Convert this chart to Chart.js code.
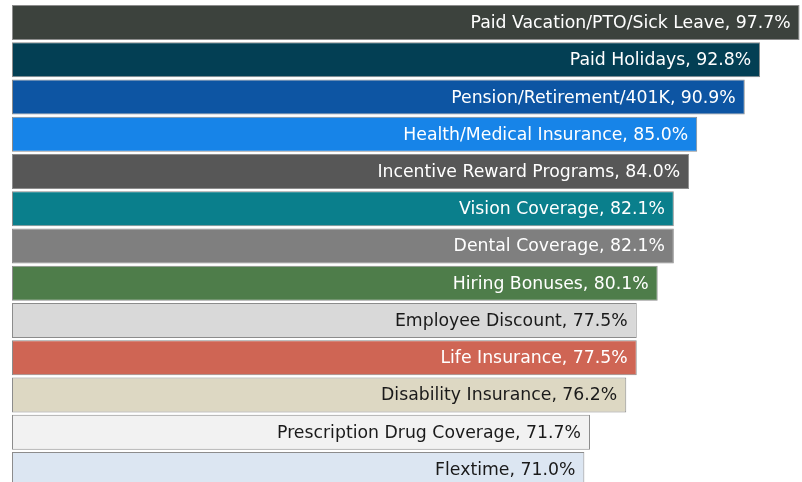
<!DOCTYPE html>
<html>
<head>
<meta charset="utf-8">
<script src="https://cdn.jsdelivr.net/npm/chart.js@4.4.0/dist/chart.umd.min.js"></script>
<style>
  html, body { margin: 0; padding: 0; background: #ffffff; overflow: hidden; }
  #wrap { width: 802px; height: 488px; position: relative; }
</style>
</head>
<body>
<div id="wrap"><canvas id="benefitsChart"></canvas></div>
<script>
const categories = [
  "Paid Vacation/PTO/Sick Leave",
  "Paid Holidays",
  "Pension/Retirement/401K",
  "Health/Medical Insurance",
  "Incentive Reward Programs",
  "Vision Coverage",
  "Dental Coverage",
  "Hiring Bonuses",
  "Employee Discount",
  "Life Insurance",
  "Disability Insurance",
  "Prescription Drug Coverage",
  "Flextime"
];
const percentValues = [97.7, 92.8, 90.9, 85.0, 84.0, 82.1, 82.1, 80.1, 77.5, 77.5, 76.2, 71.7, 71.0];
const barColors = [
  "#3c423d", "#033f54", "#0d55a3", "#1784e8", "#575757", "#0a7f8c", "#7f7f7f",
  "#4e7d4a", "#d9d9d9", "#cf6554", "#ddd8c3", "#f2f2f2", "#dce6f2"
];
const labelColors = [
  "#ffffff", "#ffffff", "#ffffff", "#ffffff", "#ffffff", "#ffffff", "#ffffff",
  "#ffffff", "#1a1a1a", "#ffffff", "#1a1a1a", "#1a1a1a", "#1a1a1a"
];

// draws "Name, 97.7%" right-aligned inside each bar
const insideLabels = {
  id: "insideLabels",
  afterDatasetsDraw(chart) {
    const ctx = chart.ctx;
    const meta = chart.getDatasetMeta(0);
    ctx.save();
    ctx.font = "17.3px 'DejaVu Sans'";
    ctx.textAlign = "right";
    ctx.textBaseline = "middle";
    meta.data.forEach((bar, i) => {
      ctx.fillStyle = labelColors[i];
      ctx.fillText(categories[i] + ", " + percentValues[i].toFixed(1) + "%", bar.x - 9, bar.y + 1);
    });
    ctx.restore();
  }
};

const ctx = document.getElementById("benefitsChart").getContext("2d");
new Chart(ctx, {
  type: "bar",
  data: {
    labels: categories,
    datasets: [
      {
        data: percentValues,
        backgroundColor: barColors,
        borderColor: "#8c8c8c",
        borderWidth: 1,
        borderSkipped: false,
        barPercentage: 0.94,
        categoryPercentage: 1.0
      }
    ]
  },
  options: {
    indexAxis: "y",
    responsive: true,
    maintainAspectRatio: false,
    animation: false,
    layout: { padding: { left: 12, right: 0, top: 4, bottom: 0 } },
    plugins: {
      legend: { display: false },
      tooltip: { enabled: false }
    },
    scales: {
      x: { display: false, min: 0, max: 98 },
      y: { display: false }
    }
  },
  plugins: [insideLabels]
});
</script>
</body>
</html>
